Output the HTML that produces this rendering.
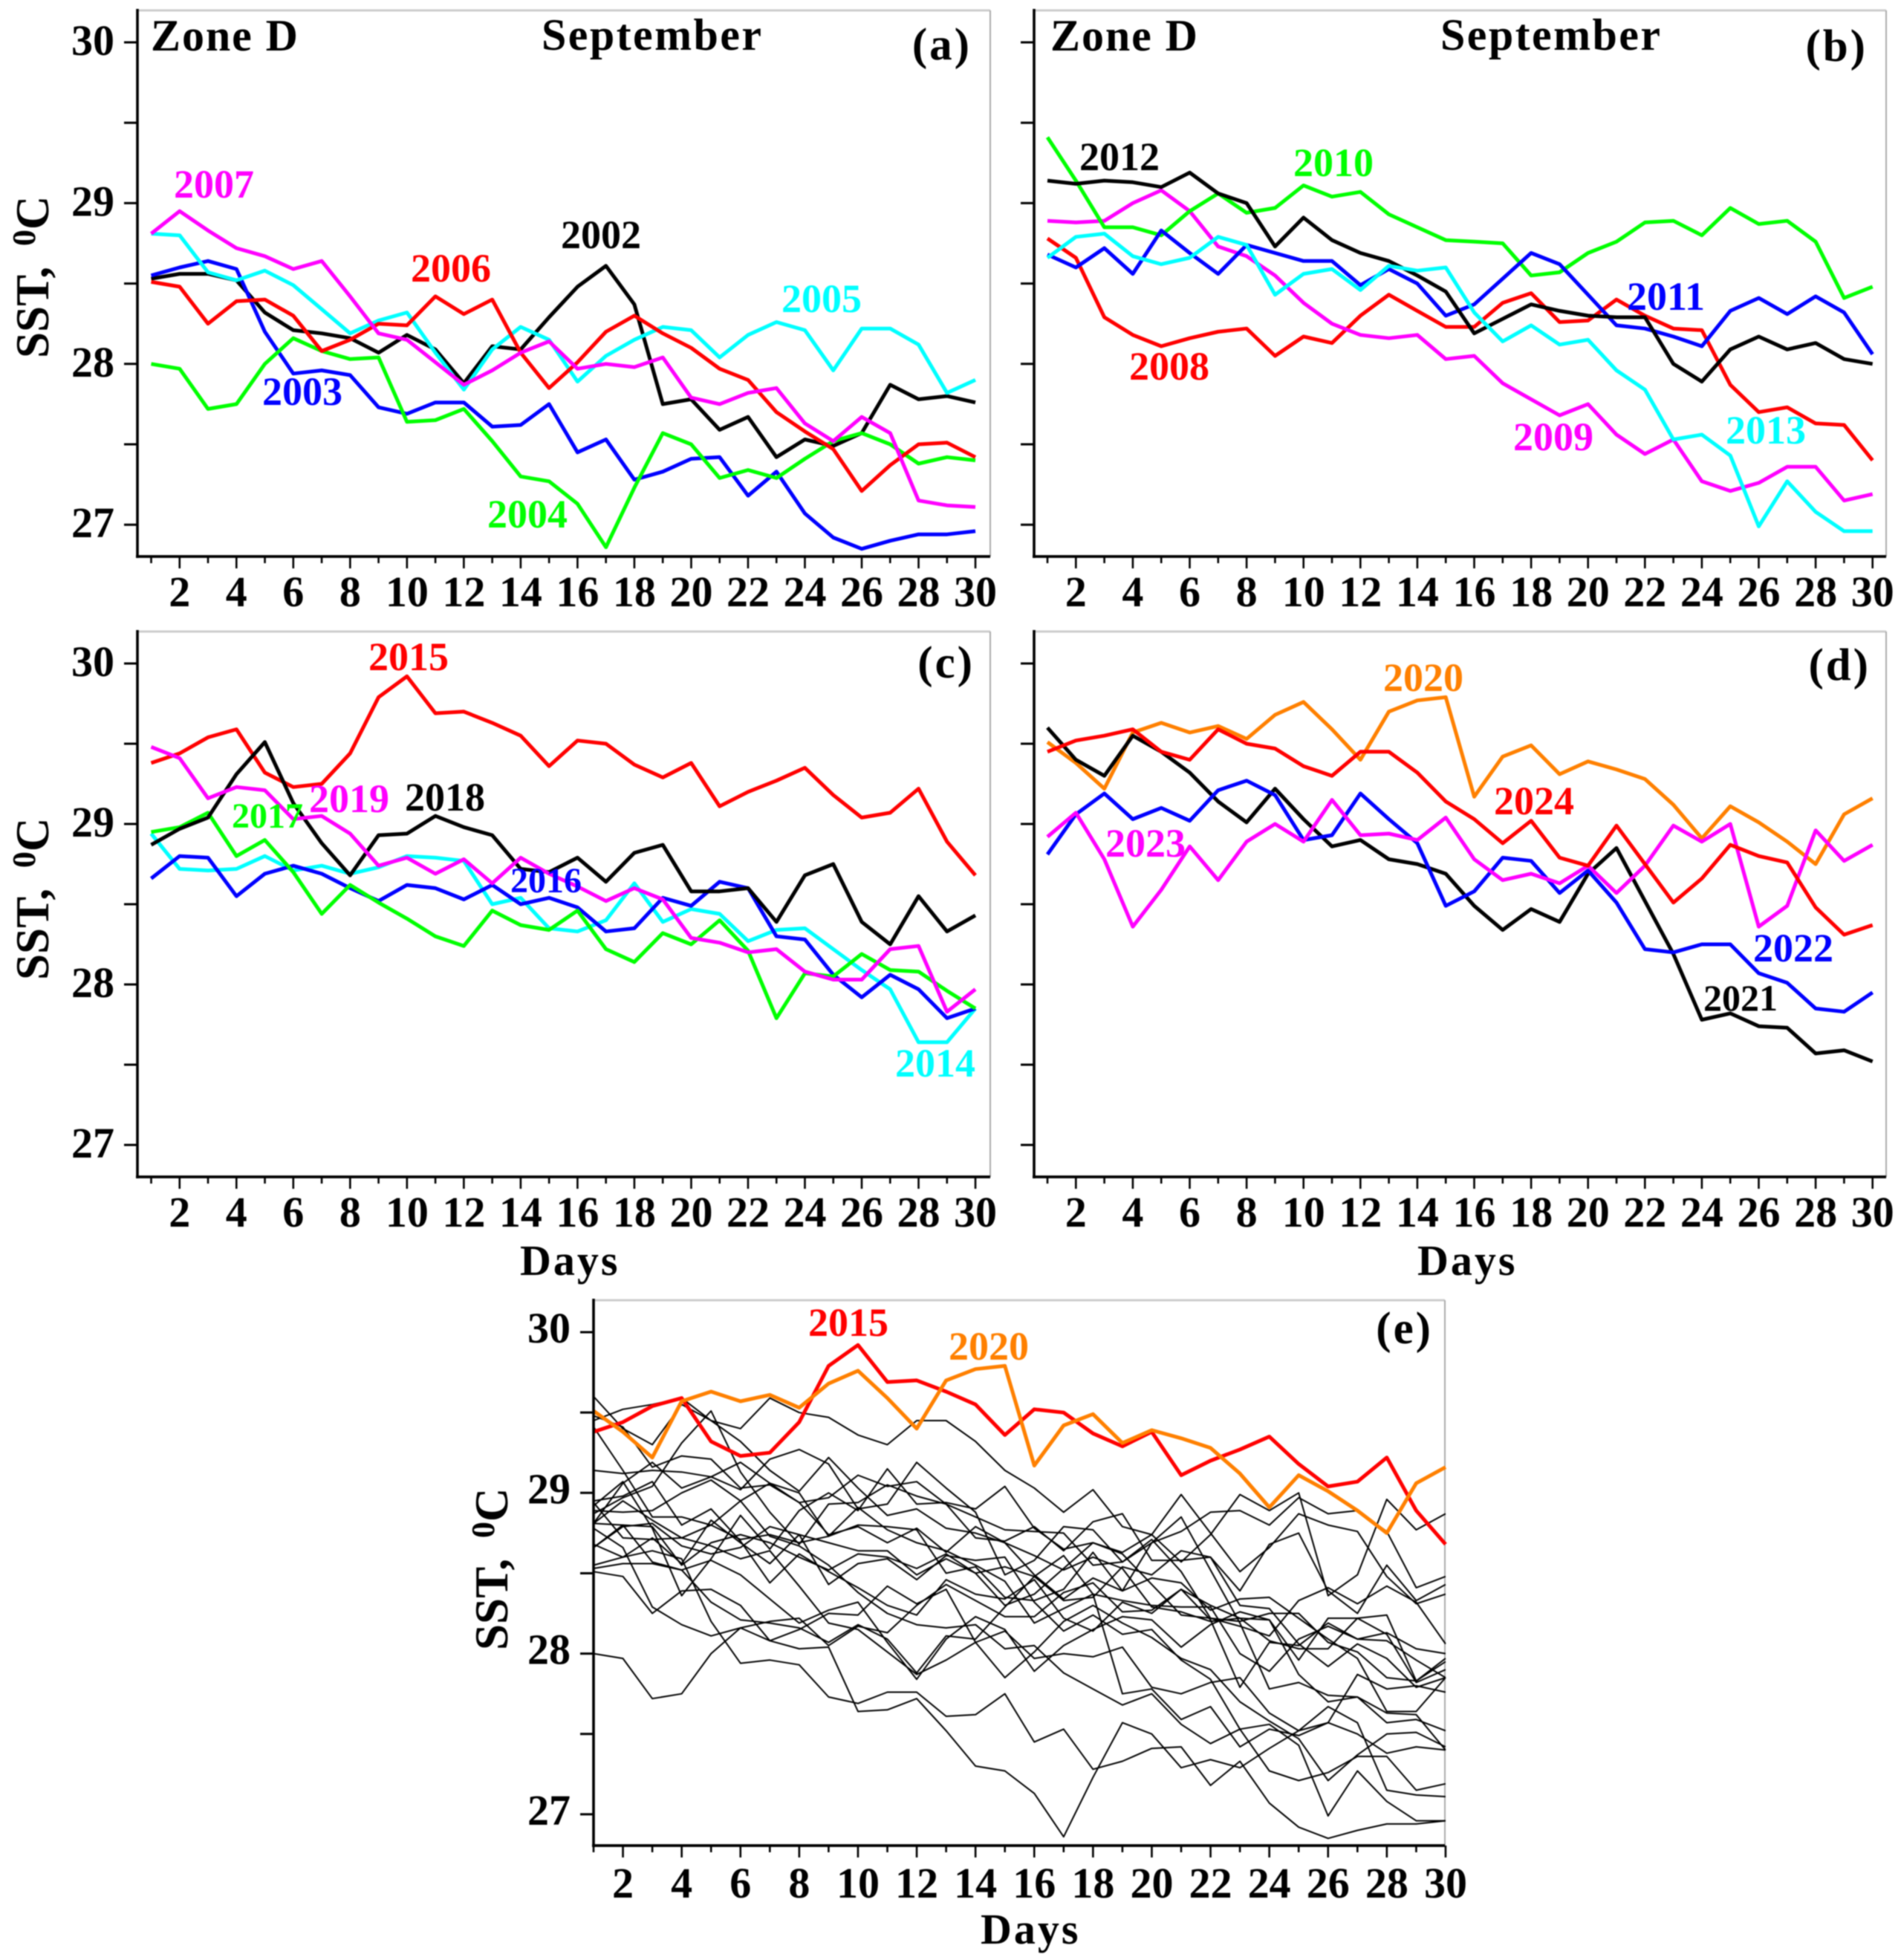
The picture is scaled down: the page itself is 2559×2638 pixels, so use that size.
<!DOCTYPE html>
<html lang="en">
<head>
<meta charset="utf-8">
<title>SST Zone D September</title>
<style>
html,body{margin:0;padding:0;background:#fff;}
svg{display:block;filter:blur(0.7px);}
text{font-family:"Liberation Serif",serif;font-weight:bold;}
.yl{font-size:54px;}
.hdr{font-size:60px;}
.pl{font-size:61px;letter-spacing:3px;text-anchor:end;}
.tick{font-size:58px;text-anchor:middle;}
.ytick{font-size:58px;text-anchor:end;}
.ttl{font-size:63px;}
.days{font-size:58px;letter-spacing:3px;}
</style>
</head>
<body>
<svg id="chart" xmlns="http://www.w3.org/2000/svg" width="2559" height="2638" viewBox="0 0 2559 2638">
  <rect x="0" y="0" width="2559" height="2638" fill="#fff"/>
  <g id="marks"></g>

  <g>
    <text class="hdr" x="203" y="68" textLength="198">Zone D</text>
    <text class="hdr" x="729" y="67" textLength="296">September</text>
    <text class="pl" x="1308" y="80">(a)</text>
    <text class="yl" x="234" y="266" fill="#ff00ff">2007</text>
    <text class="yl" x="553" y="379" fill="#ff0000">2006</text>
    <text class="yl" x="755" y="334" fill="#000000">2002</text>
    <text class="yl" x="1052" y="420" fill="#00ffff">2005</text>
    <text class="yl" x="353" y="545" fill="#0000ff">2003</text>
    <text class="yl" x="656" y="710" fill="#00ff00">2004</text>
    <text class="ttl" transform="translate(65,482) rotate(-90)">SST,<tspan dx="12"> </tspan><tspan font-size="44" dy="-18">0</tspan><tspan dy="18">C</tspan></text>
  </g>

  <g>
    <text class="hdr" x="1414" y="68" textLength="198">Zone D</text>
    <text class="hdr" x="1939" y="67" textLength="296">September</text>
    <text class="pl" x="2514" y="82">(b)</text>
    <text class="yl" x="1453" y="229" fill="#000000">2012</text>
    <text class="yl" x="1741" y="237" fill="#00ff00">2010</text>
    <text class="yl" x="2190" y="417" fill="#0000ff">2011</text>
    <text class="yl" x="1520" y="511" fill="#ff0000">2008</text>
    <text class="yl" x="2037" y="606" fill="#ff00ff">2009</text>
    <text class="yl" x="2323" y="597" fill="#00ffff">2013</text>
  </g>

  <g>
    <text class="pl" x="1312" y="912">(c)</text>
    <text class="yl" x="496" y="902" fill="#ff0000">2015</text>
    <text class="yl" x="416" y="1093" fill="#ff00ff">2019</text>
    <text class="yl" x="545" y="1091" fill="#000000">2018</text>
    <text class="yl" x="312" y="1114" fill="#00ff00" style="font-size:48px">2017</text>
    <text class="yl" x="687" y="1201" fill="#0000ff" style="font-size:48px">2016</text>
    <text class="yl" x="1205" y="1449" fill="#00ffff">2014</text>
    <text class="ttl" transform="translate(65,1319) rotate(-90)">SST,<tspan dx="12"> </tspan><tspan font-size="44" dy="-18">0</tspan><tspan dy="18">C</tspan></text>
    <text class="days" x="700" y="1716">Days</text>
  </g>

  <g>
    <text class="pl" x="2518" y="915">(d)</text>
    <text class="yl" x="1862" y="930" fill="#ff8000">2020</text>
    <text class="yl" x="2011" y="1096" fill="#ff0000">2024</text>
    <text class="yl" x="1488" y="1153" fill="#ff00ff">2023</text>
    <text class="yl" x="2360" y="1294" fill="#0000ff">2022</text>
    <text class="yl" x="2293" y="1360" fill="#000000" style="font-size:50px">2021</text>
    <text class="days" x="1908" y="1716">Days</text>
  </g>

  <g>
    <text class="pl" x="1929" y="1808">(e)</text>
    <text class="yl" x="1088" y="1798" fill="#ff0000">2015</text>
    <text class="yl" x="1277" y="1830" fill="#ff8000">2020</text>
    <text class="ttl" transform="translate(683,2221) rotate(-90)">SST,<tspan dx="12"> </tspan><tspan font-size="44" dy="-18">0</tspan><tspan dy="18">C</tspan></text>
    <text class="days" x="1320" y="2616">Days</text>
  </g>
</svg>

<script>
// ---- chart data (SST, deg C, days 1..30 of September) ----
const days = [1,2,3,4,5,6,7,8,9,10,11,12,13,14,15,16,17,18,19,20,21,22,23,24,25,26,27,28,29,30];
const xTickLabels = [2,4,6,8,10,12,14,16,18,20,22,24,26,28,30];
const yTickValues = [30,29.5,29,28.5,28,27.5,27];
const yTickLabels = [30,29,28,27];

const sst2002 = [28.53,28.56,28.56,28.52,28.32,28.21,28.19,28.16,28.07,28.18,28.09,27.88,28.11,28.09,28.29,28.48,28.61,28.37,27.75,27.78,27.59,27.67,27.42,27.53,27.49,27.57,27.87,27.78,27.80,27.76];
const sst2003 = [28.55,28.60,28.64,28.59,28.20,27.94,27.96,27.93,27.73,27.69,27.76,27.76,27.61,27.62,27.75,27.45,27.53,27.28,27.33,27.41,27.42,27.18,27.33,27.07,26.92,26.85,26.90,26.94,26.94,26.96];
const sst2004 = [28.00,27.97,27.72,27.75,28.00,28.16,28.08,28.03,28.04,27.64,27.65,27.72,27.52,27.30,27.27,27.13,26.86,27.23,27.57,27.50,27.29,27.34,27.29,27.41,27.52,27.57,27.50,27.38,27.42,27.40];
const sst2005 = [28.81,28.80,28.57,28.52,28.58,28.49,28.34,28.19,28.27,28.32,28.07,27.84,28.09,28.23,28.15,27.89,28.05,28.15,28.23,28.21,28.04,28.18,28.26,28.21,27.96,28.22,28.22,28.12,27.82,27.90];
const sst2006 = [28.51,28.48,28.25,28.39,28.40,28.30,28.08,28.15,28.25,28.24,28.42,28.31,28.40,28.07,27.85,28.01,28.20,28.30,28.19,28.10,27.97,27.90,27.70,27.58,27.47,27.21,27.37,27.50,27.51,27.42];
const sst2007 = [28.81,28.95,28.83,28.72,28.67,28.59,28.64,28.42,28.19,28.15,28.01,27.87,27.96,28.07,28.14,27.97,28.00,27.98,28.04,27.79,27.75,27.82,27.85,27.63,27.52,27.67,27.57,27.15,27.12,27.11];
const sst2008 = [28.78,28.66,28.29,28.18,28.11,28.16,28.20,28.22,28.05,28.17,28.13,28.30,28.43,28.33,28.23,28.23,28.38,28.44,28.26,28.27,28.40,28.30,28.22,28.21,27.87,27.70,27.73,27.63,27.62,27.40];
const sst2009 = [28.89,28.88,28.89,29.00,29.08,28.95,28.73,28.67,28.55,28.38,28.25,28.18,28.16,28.18,28.03,28.05,27.88,27.78,27.68,27.75,27.56,27.44,27.53,27.27,27.21,27.26,27.36,27.36,27.15,27.19];
const sst2010 = [29.41,29.14,28.85,28.85,28.80,28.95,29.06,28.94,28.97,29.11,29.04,29.07,28.93,28.85,28.77,28.76,28.75,28.55,28.57,28.69,28.76,28.88,28.89,28.80,28.97,28.87,28.89,28.76,28.41,28.48];
const sst2011 = [28.68,28.60,28.72,28.56,28.83,28.69,28.56,28.74,28.69,28.64,28.64,28.49,28.59,28.50,28.30,28.37,28.53,28.69,28.62,28.43,28.24,28.22,28.17,28.11,28.33,28.41,28.31,28.42,28.32,28.06];
const sst2012 = [29.14,29.12,29.14,29.13,29.10,29.19,29.06,29.00,28.73,28.91,28.77,28.69,28.64,28.55,28.45,28.19,28.28,28.37,28.33,28.30,28.29,28.29,28.00,27.89,28.09,28.17,28.09,28.13,28.03,28.00];
const sst2013 = [28.66,28.79,28.81,28.67,28.62,28.66,28.79,28.74,28.43,28.56,28.59,28.46,28.61,28.58,28.60,28.32,28.14,28.24,28.12,28.15,27.96,27.84,27.53,27.56,27.43,26.99,27.27,27.08,26.96,26.96];
const sst2014 = [28.94,28.72,28.71,28.72,28.80,28.71,28.74,28.69,28.73,28.80,28.79,28.77,28.50,28.54,28.35,28.33,28.40,28.63,28.39,28.47,28.44,28.27,28.34,28.35,28.22,28.09,27.97,27.64,27.64,27.85];
const sst2015 = [29.38,29.44,29.54,29.59,29.32,29.23,29.25,29.44,29.79,29.92,29.69,29.70,29.63,29.55,29.36,29.52,29.50,29.37,29.29,29.38,29.11,29.20,29.27,29.35,29.18,29.04,29.07,29.22,28.89,28.68];
const sst2016 = [28.66,28.80,28.79,28.55,28.69,28.74,28.69,28.60,28.52,28.62,28.60,28.53,28.62,28.50,28.54,28.48,28.33,28.35,28.54,28.49,28.64,28.60,28.30,28.28,28.06,27.92,28.06,27.97,27.79,27.85];
const sst2017 = [28.95,28.98,29.07,28.80,28.90,28.70,28.44,28.62,28.51,28.41,28.30,28.24,28.46,28.37,28.34,28.46,28.22,28.14,28.32,28.25,28.40,28.21,27.79,28.07,28.05,28.19,28.09,28.08,27.96,27.85];
const sst2018 = [28.87,28.97,29.04,29.31,29.51,29.13,28.88,28.68,28.93,28.94,29.05,28.98,28.93,28.72,28.70,28.79,28.64,28.82,28.87,28.58,28.58,28.60,28.39,28.68,28.75,28.39,28.25,28.55,28.33,28.43];
const sst2019 = [29.48,29.41,29.16,29.23,29.21,29.03,29.05,28.94,28.74,28.79,28.69,28.78,28.63,28.79,28.69,28.61,28.52,28.60,28.53,28.29,28.26,28.20,28.22,28.08,28.03,28.03,28.22,28.24,27.83,27.97];
const sst2020 = [29.51,29.38,29.22,29.57,29.63,29.57,29.61,29.53,29.68,29.76,29.59,29.40,29.70,29.77,29.79,29.17,29.42,29.49,29.31,29.39,29.34,29.28,29.12,28.91,29.11,29.01,28.89,28.75,29.06,29.16];
const sst2021 = [29.60,29.40,29.30,29.55,29.45,29.32,29.14,29.01,29.22,29.03,28.86,28.90,28.78,28.75,28.69,28.49,28.34,28.47,28.39,28.69,28.85,28.52,28.19,27.78,27.82,27.74,27.73,27.57,27.59,27.52];
const sst2022 = [28.81,29.06,29.19,29.03,29.10,29.02,29.21,29.27,29.18,28.90,28.93,29.19,29.03,28.88,28.49,28.58,28.79,28.77,28.57,28.71,28.51,28.22,28.20,28.25,28.25,28.07,28.01,27.85,27.83,27.95];
const sst2023 = [28.92,29.07,28.78,28.36,28.59,28.86,28.65,28.89,29.00,28.89,29.15,28.93,28.94,28.90,29.04,28.78,28.65,28.69,28.63,28.74,28.57,28.74,28.99,28.89,29.00,28.36,28.49,28.96,28.77,28.87];
const sst2024 = [29.45,29.52,29.55,29.59,29.45,29.40,29.59,29.50,29.47,29.36,29.30,29.45,29.45,29.32,29.14,29.03,28.88,29.02,28.79,28.74,28.99,28.75,28.51,28.66,28.87,28.80,28.76,28.48,28.31,28.37];

// ---- panel membership: which series each panel shows ----
const panelAYears = [2002,2003,2004,2005,2006,2007];
const panelBYears = [2008,2009,2010,2011,2012,2013];
const panelCYears = [2014,2015,2016,2017,2018,2019];
const panelDYears = [2020,2021,2022,2023,2024];
const panelEBackgroundYears = [2002,2003,2004,2005,2006,2007,2008,2009,2010,2011,2012,2013,2014,2016,2017,2018,2019,2021,2022,2023,2024];
const panelEHighlightYears = [2015,2020];

const seriesByYear = {
  2002:sst2002,2003:sst2003,2004:sst2004,2005:sst2005,2006:sst2006,2007:sst2007,
  2008:sst2008,2009:sst2009,2010:sst2010,2011:sst2011,2012:sst2012,2013:sst2013,
  2014:sst2014,2015:sst2015,2016:sst2016,2017:sst2017,2018:sst2018,2019:sst2019,
  2020:sst2020,2021:sst2021,2022:sst2022,2023:sst2023,2024:sst2024
};
const colorByYear = {
  2002:'#000000',2003:'#0000ff',2004:'#00ff00',2005:'#00ffff',2006:'#ff0000',2007:'#ff00ff',
  2008:'#ff0000',2009:'#ff00ff',2010:'#00ff00',2011:'#0000ff',2012:'#000000',2013:'#00ffff',
  2014:'#00ffff',2015:'#ff0000',2016:'#0000ff',2017:'#00ff00',2018:'#000000',2019:'#ff00ff',
  2020:'#ff8000',2021:'#000000',2022:'#0000ff',2023:'#ff00ff',2024:'#ff0000'
};

const NS = 'http://www.w3.org/2000/svg';
const root = document.getElementById('marks');

function axisX(p, day) { return p.x1 + (day - 1) * p.dx; }
function axisY(p, v) { return p.y30 + (30 - v) * p.unit; }

function addLine(group, x1, y1, x2, y2, color, width, name) {
  const el = document.createElementNS(NS, 'line');
  el.setAttribute('x1', x1);
  el.setAttribute('y1', y1);
  el.setAttribute('x2', x2);
  el.setAttribute('y2', y2);
  el.setAttribute('stroke', color);
  el.setAttribute('stroke-width', width);
  
  
  group.appendChild(el);
}

function addText(group, cls, x, y, str, name) {
  const el = document.createElementNS(NS, 'text');
  el.setAttribute('class', cls);
  el.setAttribute('x', x);
  el.setAttribute('y', y);
  el.textContent = str;
  
  
  group.appendChild(el);
}

function addSeries(group, p, year, color, width) {
  const values = seriesByYear[year];
  const pts = days.map(function (d, i) {
    return axisX(p, d).toFixed(1) + ',' + axisY(p, values[i]).toFixed(1);
  }).join(' ');
  const el = document.createElementNS(NS, 'polyline');
  el.setAttribute('points', pts);
  el.setAttribute('fill', 'none');
  el.setAttribute('stroke', color);
  el.setAttribute('stroke-width', width);
  el.setAttribute('stroke-linejoin', 'round');
  
  
  group.appendChild(el);
}

function drawPanel(p) {
  const g = document.createElementNS(NS, 'g');
  
  
  root.appendChild(g);

  addLine(g, p.left, p.top, p.right, p.top, '#cccccc', 3, 'panel-' + p.id + '-top-border');
  addLine(g, p.right, p.top, p.right, p.bottom, '#aaaaaa', 2, 'panel-' + p.id + '-right-border');

  // series
  p.series.forEach(function (year) {
    addSeries(g, p, year, colorByYear[year], 5);
  });
  p.thin.forEach(function (year) {
    addSeries(g, p, year, '#000000', 2);
  });
  p.highlight.forEach(function (year) {
    addSeries(g, p, year, colorByYear[year], 5);
  });

  // axes
  addLine(g, p.left, p.top - 2, p.left, p.bottom + 2, '#000000', 3.6, 'panel-' + p.id + '-y-axis');
  addLine(g, p.left - 2, p.bottom, p.right, p.bottom, '#000000', 3.8, 'panel-' + p.id + '-x-axis');

  // y ticks
  yTickValues.forEach(function (v) {
    const y = axisY(p, v);
    addLine(g, p.left - 18, y, p.left, y, '#000000', 3, 'y-tick-' + p.id + '-' + v);
  });
  if (p.yLabels) {
    yTickLabels.forEach(function (v) {
      addText(g, 'ytick', p.left - 31, axisY(p, v) + p.yLabelShift, String(v), 'y-tick-label-' + p.id + '-' + v);
    });
  }

  // x ticks
  days.forEach(function (d) {
    const x = axisX(p, d);
    const len = d % 2 === 0 ? 16 : 9;
    addLine(g, x, p.bottom, x, p.bottom + len, '#000000', 2.6, 'x-tick-' + p.id + '-' + d);
  });
  xTickLabels.forEach(function (d) {
    addText(g, 'tick', axisX(p, d), p.bottom + p.xLabelShift, String(d), 'x-tick-label-' + p.id + '-' + d);
  });
}

const layoutA = {id:'a', left:185, right:1333, top:14, bottom:749, x1:203.5, dx:38.26, y30:57, unit:216.4, yLabels:true, yLabelShift:17, xLabelShift:67, series:panelAYears, thin:[], highlight:[]};
const layoutB = {id:'b', left:1392, right:2539, top:14, bottom:749, x1:1410, dx:38.3, y30:57, unit:216.4, yLabels:false, yLabelShift:17, xLabelShift:67, series:panelBYears, thin:[], highlight:[]};
const layoutC = {id:'c', left:185, right:1333, top:850, bottom:1584, x1:203.5, dx:38.26, y30:893, unit:216, yLabels:true, yLabelShift:17, xLabelShift:67, series:panelCYears, thin:[], highlight:[]};
const layoutD = {id:'d', left:1392, right:2539, top:850, bottom:1584, x1:1410, dx:38.3, y30:893, unit:216, yLabels:false, yLabelShift:17, xLabelShift:67, series:panelDYears, thin:[], highlight:[]};
const layoutE = {id:'e', left:799, right:1945, top:1750, bottom:2484, x1:799, dx:39.55, y30:1793, unit:216.3, yLabels:true, yLabelShift:14, xLabelShift:70, series:[], thin:panelEBackgroundYears, highlight:panelEHighlightYears};

[layoutA, layoutB, layoutC, layoutD, layoutE].forEach(drawPanel);
</script>
</body>
</html>
